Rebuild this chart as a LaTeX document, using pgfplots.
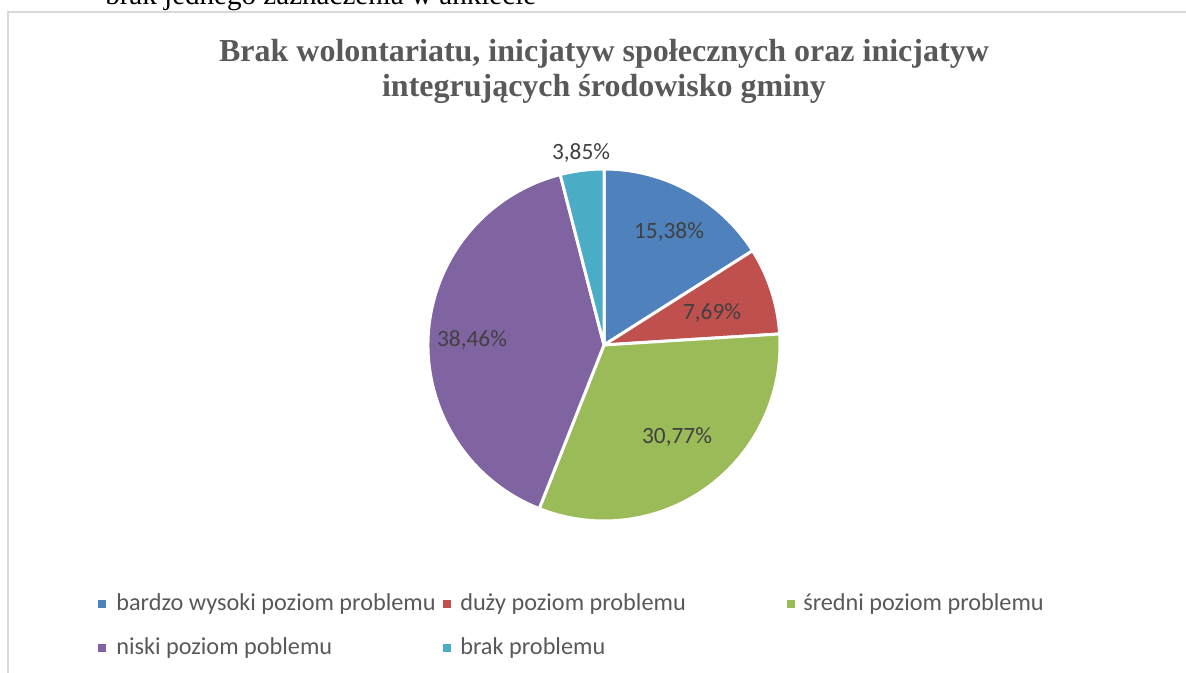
\documentclass[border=0pt]{standalone}
\usepackage{pgfplots}
\usepackage{pgfplotstable}
\pgfplotsset{compat=1.18}
\usepackage{fontspec}
\setmainfont{Liberation Serif}
\newfontfamily\calibri{Carlito}
\definecolor{pblue}{HTML}{4F81BD}
\definecolor{pred}{HTML}{C0504D}
\definecolor{pgreen}{HTML}{9BBB59}
\definecolor{ppurple}{HTML}{8064A2}
\definecolor{pcyan}{HTML}{4BACC6}
\definecolor{tgray}{HTML}{595959}
\definecolor{lgray}{HTML}{404040}
\definecolor{bgray}{HTML}{D9D9D9}

% count = number of answers (pie normalised over 25 answers)
\pgfplotstableread{
count label lx ly color
4 15,38 669 232 pblue
2 7,69 712 313 pred
8 30,77 677 437 pgreen
10 38,46 472 340 ppurple
1 3,85 581 153 pcyan
}\piedata

\begin{document}
\begin{tikzpicture}
\begin{axis}[
  at={(0,0)}, anchor=south west,
  scale only axis, width=889.5pt, height=504.75pt,
  xmin=0, xmax=1186, ymin=0, ymax=673, y dir=reverse,
  hide axis, clip=false]
\addplot[draw=none] coordinates {(0,0)};
% frame
\draw[bgray, line width=1.3pt] (axis cs:8,700) -- (axis cs:8,12) -- (axis cs:1200,12);
% cut-off text above
\node[anchor=base west, inner sep=0pt, font=\fontsize{21.8}{24}\selectfont] at (axis cs:105,5) {brak jednego zaznaczenia w ankiecie};
% title
\node[anchor=base, inner sep=0pt, text=tgray, font=\bfseries\fontsize{24}{28}\selectfont] at (axis cs:604,62) {Brak wolontariatu, inicjatyw społecznych oraz inicjatyw};
\node[anchor=base, inner sep=0pt, text=tgray, font=\bfseries\fontsize{24}{28}\selectfont] at (axis cs:604,97) {integrujących środowisko gminy};
% pie
\def\cum{0}
\pgfplotsforeachungrouped \i in {0,...,4}{%
  \pgfplotstablegetelem{\i}{count}\of\piedata \let\v\pgfplotsretval
  \pgfplotstablegetelem{\i}{color}\of\piedata \let\c\pgfplotsretval
  \pgfplotstablegetelem{\i}{label}\of\piedata \let\l\pgfplotsretval
  \pgfplotstablegetelem{\i}{lx}\of\piedata \let\lx\pgfplotsretval
  \pgfplotstablegetelem{\i}{ly}\of\piedata \let\ly\pgfplotsretval
  \pgfmathsetmacro\a{90-\cum*360/25}
  \pgfmathsetmacro\b{90-(\cum+\v)*360/25}
  \edef\temp{\noexpand\fill[\c, draw=white, line width=2.25pt, line join=round] (axis cs:604,345) -- ++(\a:132pt) arc[start angle=\a, end angle=\b, radius=132pt] -- cycle;
  \noexpand\node[text=lgray, font=\noexpand\calibri\noexpand\fontsize{17.5}{20}\noexpand\selectfont] at (axis cs:\lx,\ly) {\l\noexpand\%};}%
  \temp
  \pgfmathsetmacro\cum{\cum+\v}%
}
% legend
\fill[pblue] (axis cs:98,600) rectangle (axis cs:106,608);
\node[anchor=west, inner sep=0pt, text=tgray, font=\calibri\fontsize{18.2}{20}\selectfont] at (axis cs:116,604) {bardzo wysoki poziom problemu};
\fill[pred] (axis cs:443,600) rectangle (axis cs:451,608);
\node[anchor=west, inner sep=0pt, text=tgray, font=\calibri\fontsize{18.2}{20}\selectfont] at (axis cs:460,604) {duży poziom problemu};
\fill[pgreen] (axis cs:787,600) rectangle (axis cs:795,608);
\node[anchor=west, inner sep=0pt, text=tgray, font=\calibri\fontsize{18.2}{20}\selectfont] at (axis cs:803,604) {średni poziom problemu};
\fill[ppurple] (axis cs:98,644) rectangle (axis cs:106,652);
\node[anchor=west, inner sep=0pt, text=tgray, font=\calibri\fontsize{18.2}{20}\selectfont] at (axis cs:116,648) {niski poziom poblemu};
\fill[pcyan] (axis cs:443,644) rectangle (axis cs:451,652);
\node[anchor=west, inner sep=0pt, text=tgray, font=\calibri\fontsize{18.2}{20}\selectfont] at (axis cs:460,648) {brak problemu};
\end{axis}
\pgfresetboundingbox
\useasboundingbox (0,0) rectangle (889.5pt,504.75pt);
\end{tikzpicture}
\end{document}
